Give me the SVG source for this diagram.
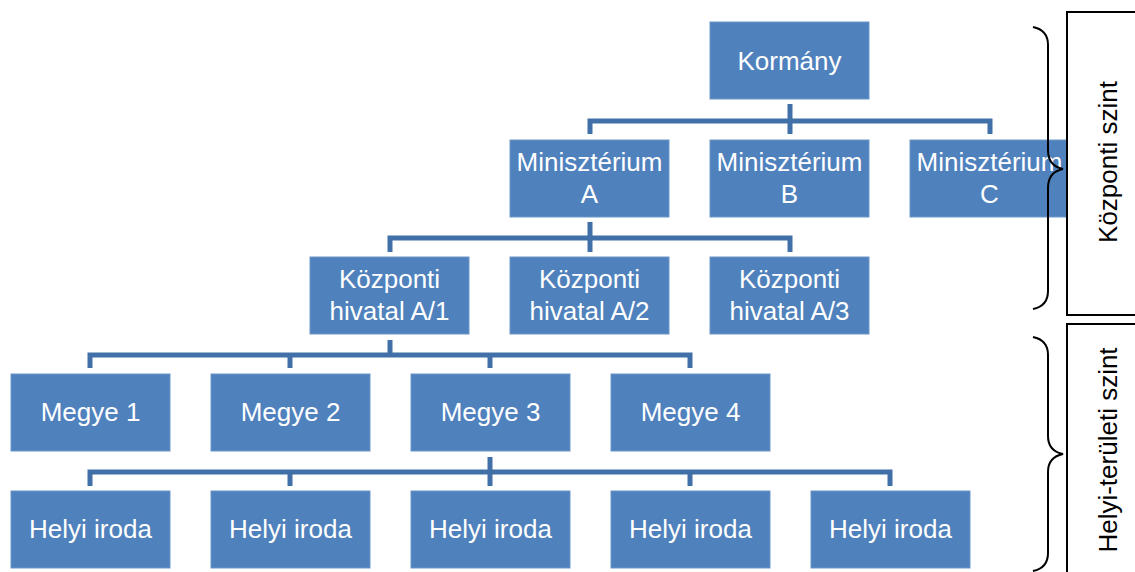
<svg xmlns="http://www.w3.org/2000/svg" width="1135" height="572" viewBox="0 0 1135 572">
<style>
.box{fill:#4F81BD;stroke:#6d96c8;stroke-width:1}
.t{font-family:"Liberation Sans",Arial,sans-serif;font-size:26px;fill:#ffffff;text-anchor:middle}
.c{fill:none;stroke:#4170A8;stroke-width:5}
.lbl{fill:#ffffff;stroke:#000000;stroke-width:2}
.brace{fill:none;stroke:#000000;stroke-width:2}
.lt{font-family:"Liberation Sans",Arial,sans-serif;font-size:26px;fill:#000000;text-anchor:middle}
</style>
<rect width="1135" height="572" fill="#ffffff"/>
<g id="connectors">
<path class="c" d="M790 104V121M590 134V121H990V134M790 121V134"/>
<path class="c" d="M590 222V238M390 252V238H790V252M590 238V252"/>
<path class="c" d="M390 340V355M90 368V355H690V368M290 355V368M490 355V368"/>
<path class="c" d="M490 457V472M90 486V472H890V486M290 472V486M490 472V486M690 472V486"/>
</g>
<g id="kormany"><rect class="box" x="710" y="22" width="159" height="77"/><text class="t" x="789.5" y="70">Kormány</text></g>
<g id="min-a"><rect class="box" x="510" y="140" width="159" height="77"/><text class="t" x="589.5" y="171">Minisztérium</text><text class="t" x="589.5" y="203">A</text></g>
<g id="min-b"><rect class="box" x="710" y="140" width="159" height="77"/><text class="t" x="789.5" y="171">Minisztérium</text><text class="t" x="789.5" y="203">B</text></g>
<g id="min-c"><rect class="box" x="910" y="140" width="159" height="77"/><text class="t" x="989.5" y="171">Minisztérium</text><text class="t" x="989.5" y="203">C</text></g>
<g id="kh-a1"><rect class="box" x="310" y="257" width="159" height="77"/><text class="t" x="389.5" y="288">Központi</text><text class="t" x="389.5" y="320">hivatal A/1</text></g>
<g id="kh-a2"><rect class="box" x="510" y="257" width="159" height="77"/><text class="t" x="589.5" y="288">Központi</text><text class="t" x="589.5" y="320">hivatal A/2</text></g>
<g id="kh-a3"><rect class="box" x="710" y="257" width="159" height="77"/><text class="t" x="789.5" y="288">Központi</text><text class="t" x="789.5" y="320">hivatal A/3</text></g>
<g id="megye1"><rect class="box" x="11" y="374" width="159" height="77"/><text class="t" x="90.5" y="421">Megye 1</text></g>
<g id="megye2"><rect class="box" x="211" y="374" width="159" height="77"/><text class="t" x="290.5" y="421">Megye 2</text></g>
<g id="megye3"><rect class="box" x="411" y="374" width="159" height="77"/><text class="t" x="490.5" y="421">Megye 3</text></g>
<g id="megye4"><rect class="box" x="611" y="374" width="159" height="77"/><text class="t" x="690.5" y="421">Megye 4</text></g>
<g id="helyi1"><rect class="box" x="11" y="491" width="159" height="77"/><text class="t" x="90.5" y="538">Helyi iroda</text></g>
<g id="helyi2"><rect class="box" x="211" y="491" width="159" height="77"/><text class="t" x="290.5" y="538">Helyi iroda</text></g>
<g id="helyi3"><rect class="box" x="411" y="491" width="159" height="77"/><text class="t" x="490.5" y="538">Helyi iroda</text></g>
<g id="helyi4"><rect class="box" x="611" y="491" width="159" height="77"/><text class="t" x="690.5" y="538">Helyi iroda</text></g>
<g id="helyi5"><rect class="box" x="811" y="491" width="159" height="77"/><text class="t" x="890.5" y="538">Helyi iroda</text></g>
<g id="label-kozponti">
<rect class="lbl" x="1067" y="12" width="80" height="303"/>
<text class="lt" transform="translate(1117 162) rotate(-90)">Központi szint</text>
</g>
<g id="label-helyi">
<rect class="lbl" x="1067" y="324" width="80" height="260"/>
<text class="lt" transform="translate(1117 450) rotate(-90)">Helyi-területi szint</text>
</g>
<g id="brace-kozponti"><path class="brace" d="M1033 27Q1048 30 1048 45V150Q1048 166 1063 169Q1048 172 1048 188V291Q1048 306 1033 309"/></g>
<g id="brace-helyi"><path class="brace" d="M1033 337Q1048 340 1048 355V436Q1048 451 1063 454Q1048 457 1048 472V553Q1048 568 1033 571"/></g>
</svg>
